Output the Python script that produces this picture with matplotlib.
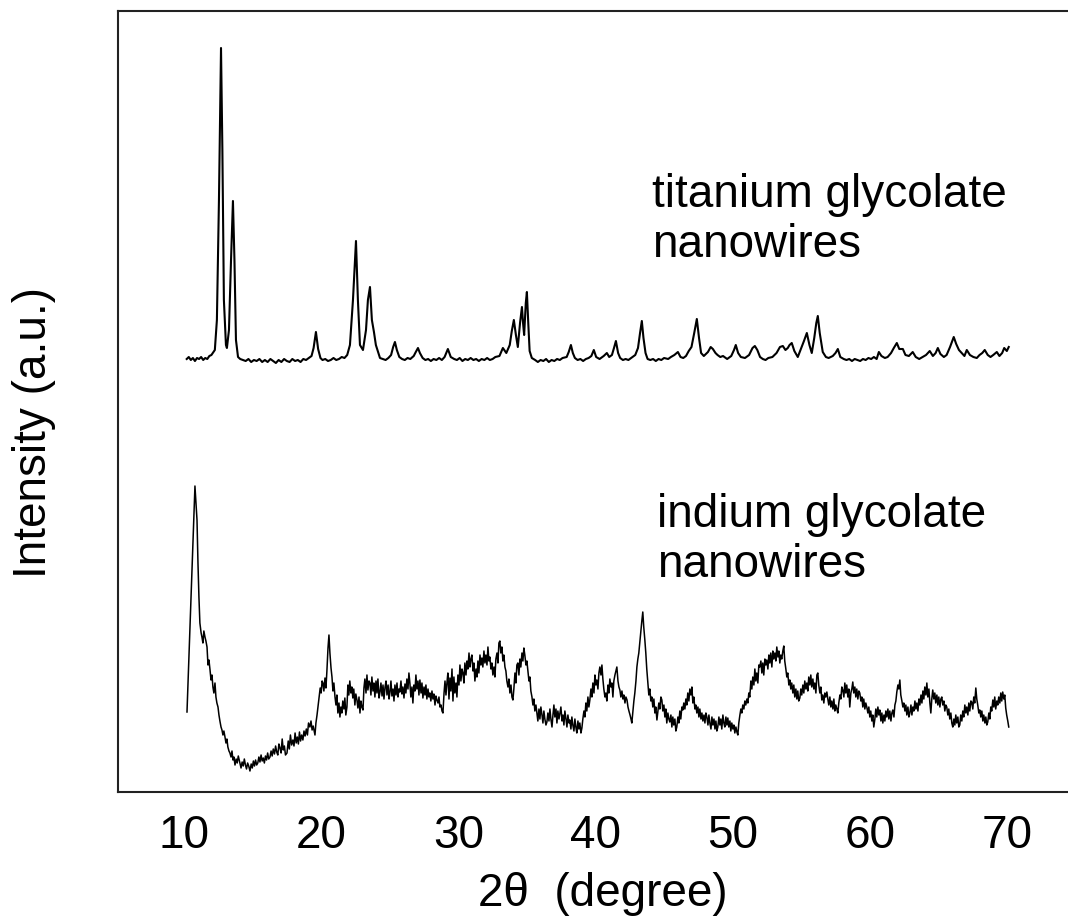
import matplotlib
matplotlib.use("Agg")
import matplotlib.pyplot as plt

# ---------------- data (2theta in degrees, intensity in a.u.) ----------------
TI_X = [10.20, 10.35, 10.50, 10.65, 10.80, 10.95, 11.10, 11.25, 11.40, 11.55, 11.70, 11.85, 12.00,
        12.10, 12.25, 12.40, 12.55, 12.70, 12.80, 12.91, 13.06, 13.13, 13.28, 13.43, 13.57, 13.68,
        13.79, 13.94, 14.10, 14.30, 14.50, 14.70, 14.90, 15.10, 15.30, 15.50, 15.70, 15.90, 16.10,
        16.30, 16.50, 16.70, 16.90, 17.10, 17.30, 17.50, 17.70, 17.90, 18.10, 18.30, 18.50, 18.70,
        18.90, 19.10, 19.30, 19.45, 19.62, 19.78, 19.95, 20.10, 20.30, 20.50, 20.70, 20.90, 21.10,
        21.30, 21.50, 21.70, 21.90, 22.10, 22.32, 22.54, 22.68, 22.83, 23.05, 23.27, 23.41, 23.56,
        23.70, 23.85, 23.99, 24.29, 24.50, 24.70, 24.90, 25.10, 25.25, 25.38, 25.52, 25.70, 25.90,
        26.10, 26.30, 26.50, 26.75, 26.90, 27.06, 27.20, 27.40, 27.60, 27.80, 28.00, 28.20, 28.40,
        28.60, 28.80, 29.00, 29.24, 29.45, 29.70, 29.90, 30.10, 30.30, 30.50, 30.70, 30.90, 31.10,
        31.30, 31.50, 31.70, 31.90, 32.10, 32.30, 32.50, 32.70, 33.00, 33.25, 33.50, 33.75, 33.90,
        34.05, 34.20, 34.34, 34.50, 34.64, 34.72, 34.80, 34.92, 35.00, 35.10, 35.20, 35.36, 35.60,
        35.80, 36.00, 36.20, 36.40, 36.60, 36.80, 37.00, 37.20, 37.40, 37.60, 37.90, 38.05, 38.21,
        38.35, 38.50, 38.70, 38.90, 39.10, 39.30, 39.50, 39.70, 39.88, 40.05, 40.30, 40.60, 40.83,
        41.00, 41.20, 41.35, 41.49, 41.65, 41.80, 42.00, 42.20, 42.40, 42.60, 42.90, 43.10, 43.25,
        43.38, 43.50, 43.65, 43.80, 44.00, 44.20, 44.40, 44.60, 44.80, 45.00, 45.30, 45.50, 45.75,
        46.01, 46.20, 46.40, 46.60, 46.80, 47.00, 47.20, 47.39, 47.55, 47.70, 47.90, 48.20, 48.40,
        48.56, 48.75, 48.90, 49.10, 49.30, 49.60, 49.90, 50.10, 50.23, 50.40, 50.60, 50.90, 51.20,
        51.45, 51.62, 51.80, 52.00, 52.20, 52.40, 52.60, 52.90, 53.20, 53.45, 53.66, 53.85, 54.02,
        54.15, 54.31, 54.50, 54.75, 54.95, 55.20, 55.41, 55.60, 55.77, 55.95, 56.10, 56.21, 56.35,
        56.57, 56.80, 57.00, 57.30, 57.50, 57.67, 57.85, 58.10, 58.30, 58.50, 58.70, 58.90, 59.10,
        59.30, 59.50, 59.70, 59.90, 60.10, 60.30, 60.50, 60.66, 60.85, 61.10, 61.30, 61.55, 61.75,
        61.97, 62.15, 62.41, 62.60, 62.85, 63.13, 63.35, 63.60, 63.85, 64.10, 64.37, 64.60, 64.80,
        64.96, 65.15, 65.40, 65.60, 65.85, 66.12, 66.30, 66.50, 66.70, 66.90, 67.07, 67.30, 67.55,
        67.80, 68.00, 68.20, 68.38, 68.60, 68.80, 69.00, 69.26, 69.45, 69.65, 69.80, 69.99, 70.13]
TI_Y = [434, 436, 433, 435, 432, 435, 434, 436, 433, 435, 434, 437, 438,
        440, 443, 473, 593, 745, 643, 493, 448, 445, 463, 533, 592, 533,
        453, 436, 434, 433, 432, 434, 431, 433, 432, 434, 431, 433, 431,
        434, 432, 430, 433, 431, 434, 432, 431, 434, 432, 433, 431, 434,
        433, 435, 437, 445, 461, 444, 435, 433, 434, 432, 433, 435, 433,
        434, 436, 435, 438, 448, 493, 552, 493, 448, 443, 463, 493, 506,
        473, 461, 448, 435, 434, 433, 435, 438, 446, 451, 443, 436, 434,
        433, 435, 434, 437, 441, 445, 440, 435, 433, 434, 432, 434, 433,
        435, 433, 436, 444, 436, 434, 433, 435, 432, 434, 433, 435, 433,
        434, 432, 434, 433, 435, 433, 434, 436, 437, 445, 440, 448, 462,
        473, 458, 446, 470, 486, 470, 458, 490, 501, 470, 442, 435, 433,
        431, 433, 432, 434, 431, 433, 432, 434, 433, 435, 436, 441, 448,
        440, 435, 433, 434, 432, 434, 435, 437, 443, 436, 434, 437, 440,
        436, 438, 445, 452, 440, 435, 433, 434, 433, 435, 438, 445, 460,
        472, 455, 440, 434, 433, 434, 432, 434, 433, 435, 434, 436, 438,
        441, 436, 435, 437, 442, 446, 460, 474, 455, 440, 437, 441, 446,
        444, 440, 438, 436, 437, 434, 437, 443, 448, 440, 436, 435, 438,
        445, 447, 443, 436, 434, 433, 435, 436, 440, 446, 447, 443, 445,
        448, 450, 442, 436, 443, 452, 460, 448, 440, 455, 470, 477, 460,
        441, 436, 435, 437, 440, 444, 436, 434, 433, 434, 432, 434, 433,
        432, 434, 433, 435, 434, 436, 434, 441, 437, 435, 436, 440, 445,
        450, 444, 444, 438, 437, 441, 436, 434, 436, 438, 442, 437, 440,
        445, 439, 436, 438, 446, 456, 449, 443, 440, 437, 443, 438, 436,
        435, 438, 440, 443, 438, 436, 438, 441, 437, 440, 445, 442, 446]

IN_X = [10.22, 10.80, 10.95, 11.02, 11.09, 11.16, 11.25, 11.31, 11.38, 11.45, 11.53, 11.60, 11.68,
        11.75, 11.82, 11.90, 11.97, 12.04, 12.11, 12.18, 12.26, 12.33, 12.40, 12.48, 12.55, 12.62,
        12.70, 12.77, 12.84, 12.91, 12.99, 13.06, 13.13, 13.20, 13.28, 13.35, 13.43, 13.50, 13.57,
        13.64, 13.72, 13.80, 13.88, 13.96, 14.08, 14.16, 14.24, 14.32, 14.40, 14.48, 14.56, 14.64,
        14.72, 14.81, 14.90, 14.98, 15.06, 15.14, 15.22, 15.30, 15.38, 15.46, 15.54, 15.62, 15.70,
        15.78, 15.86, 15.94, 16.02, 16.10, 16.18, 16.27, 16.35, 16.43, 16.51, 16.60, 16.68, 16.76,
        16.84, 16.92, 17.00, 17.08, 17.16, 17.24, 17.32, 17.40, 17.51, 17.60, 17.68, 17.76, 17.85,
        17.94, 18.02, 18.10, 18.18, 18.26, 18.34, 18.42, 18.50, 18.58, 18.67, 18.75, 18.83, 18.92,
        19.00, 19.08, 19.18, 19.26, 19.34, 19.42, 19.55, 19.62, 19.70, 19.77, 19.85, 19.93, 20.00,
        20.07, 20.13, 20.20, 20.28, 20.35, 20.42, 20.50, 20.57, 20.64, 20.72, 20.79, 20.86, 20.93,
        21.01, 21.08, 21.15, 21.22, 21.30, 21.37, 21.44, 21.51, 21.58, 21.66, 21.73, 21.80, 21.88,
        21.95, 22.02, 22.09, 22.17, 22.24, 22.31, 22.38, 22.46, 22.53, 22.61, 22.68, 22.76, 22.83,
        22.90, 22.97, 23.05, 23.12, 23.19, 23.27, 23.34, 23.41, 23.49, 23.56, 23.63, 23.70, 23.78,
        23.85, 23.92, 24.00, 24.07, 24.14, 24.22, 24.29, 24.36, 24.44, 24.51, 24.58, 24.66, 24.73,
        24.80, 24.88, 24.95, 25.01, 25.09, 25.16, 25.24, 25.31, 25.38, 25.46, 25.53, 25.60, 25.67,
        25.74, 25.82, 25.89, 25.96, 26.04, 26.11, 26.18, 26.25, 26.33, 26.40, 26.47, 26.54, 26.62,
        26.69, 26.76, 26.84, 26.91, 26.98, 27.06, 27.13, 27.20, 27.28, 27.35, 27.42, 27.50, 27.57,
        27.64, 27.71, 27.79, 27.86, 27.93, 28.00, 28.08, 28.15, 28.22, 28.30, 28.37, 28.44, 28.52,
        28.59, 28.66, 28.74, 28.81, 28.88, 28.96, 29.03, 29.10, 29.17, 29.24, 29.32, 29.39, 29.46,
        29.54, 29.61, 29.68, 29.75, 29.83, 29.90, 29.97, 30.05, 30.12, 30.19, 30.27, 30.34, 30.41,
        30.48, 30.56, 30.63, 30.70, 30.78, 30.85, 30.92, 30.99, 31.07, 31.14, 31.21, 31.29, 31.36,
        31.43, 31.50, 31.58, 31.65, 31.72, 31.79, 31.87, 31.94, 32.01, 32.09, 32.16, 32.23, 32.30,
        32.38, 32.45, 32.52, 32.60, 32.67, 32.74, 32.82, 32.89, 32.96, 33.03, 33.10, 33.18, 33.25,
        33.32, 33.40, 33.47, 33.54, 33.62, 33.69, 33.76, 33.84, 33.91, 33.98, 34.05, 34.13, 34.20,
        34.27, 34.34, 34.42, 34.49, 34.56, 34.64, 34.71, 34.78, 34.85, 34.93, 35.00, 35.07, 35.15,
        35.22, 35.29, 35.37, 35.44, 35.51, 35.58, 35.66, 35.73, 35.80, 35.88, 35.95, 36.02, 36.10,
        36.17, 36.24, 36.31, 36.39, 36.46, 36.53, 36.61, 36.68, 36.75, 36.83, 36.90, 36.97, 37.04,
        37.12, 37.19, 37.26, 37.34, 37.41, 37.48, 37.56, 37.63, 37.70, 37.77, 37.85, 37.92, 37.99,
        38.07, 38.13, 38.21, 38.28, 38.35, 38.43, 38.50, 38.57, 38.64, 38.72, 38.79, 38.86, 38.94,
        39.01, 39.08, 39.16, 39.23, 39.30, 39.37, 39.45, 39.52, 39.59, 39.67, 39.74, 39.81, 39.89,
        39.96, 40.03, 40.10, 40.18, 40.25, 40.32, 40.40, 40.47, 40.54, 40.61, 40.69, 40.76, 40.83,
        40.91, 40.98, 41.05, 41.13, 41.20, 41.27, 41.34, 41.42, 41.49, 41.56, 41.64, 41.71, 41.78,
        41.85, 41.93, 42.00, 42.07, 42.15, 42.22, 42.30, 42.37, 42.44, 42.52, 42.59, 42.65, 42.73,
        42.80, 42.87, 42.95, 43.02, 43.09, 43.16, 43.24, 43.31, 43.38, 43.45, 43.52, 43.60, 43.67,
        43.74, 43.82, 43.89, 43.96, 44.04, 44.11, 44.18, 44.26, 44.33, 44.40, 44.48, 44.55, 44.62,
        44.69, 44.77, 44.84, 44.91, 44.99, 45.06, 45.13, 45.20, 45.28, 45.35, 45.42, 45.50, 45.57,
        45.64, 45.71, 45.79, 45.86, 45.93, 46.01, 46.08, 46.15, 46.22, 46.30, 46.37, 46.44, 46.52,
        46.59, 46.66, 46.73, 46.81, 46.88, 46.96, 47.03, 47.10, 47.17, 47.25, 47.32, 47.39, 47.47,
        47.54, 47.61, 47.69, 47.76, 47.83, 47.91, 47.98, 48.05, 48.12, 48.20, 48.27, 48.34, 48.42,
        48.49, 48.56, 48.64, 48.71, 48.78, 48.85, 48.92, 49.00, 49.07, 49.14, 49.21, 49.29, 49.36,
        49.43, 49.51, 49.58, 49.65, 49.72, 49.80, 49.87, 49.94, 50.02, 50.09, 50.16, 50.24, 50.31,
        50.38, 50.45, 50.53, 50.60, 50.67, 50.74, 50.82, 50.89, 50.96, 51.04, 51.11, 51.18, 51.25,
        51.33, 51.40, 51.47, 51.55, 51.62, 51.69, 51.76, 51.84, 51.91, 51.98, 52.06, 52.13, 52.20,
        52.27, 52.35, 52.42, 52.49, 52.57, 52.64, 52.71, 52.78, 52.86, 52.93, 53.00, 53.08, 53.15,
        53.22, 53.30, 53.37, 53.44, 53.51, 53.58, 53.66, 53.73, 53.80, 53.88, 53.95, 54.02, 54.10,
        54.17, 54.24, 54.31, 54.39, 54.46, 54.53, 54.61, 54.68, 54.75, 54.82, 54.90, 54.97, 55.04,
        55.12, 55.19, 55.26, 55.34, 55.41, 55.48, 55.55, 55.63, 55.70, 55.77, 55.85, 55.92, 55.99,
        56.07, 56.14, 56.21, 56.28, 56.36, 56.43, 56.50, 56.57, 56.65, 56.72, 56.79, 56.87, 56.94,
        57.01, 57.09, 57.16, 57.23, 57.31, 57.38, 57.45, 57.52, 57.60, 57.67, 57.74, 57.82, 57.89,
        57.96, 58.03, 58.11, 58.18, 58.25, 58.32, 58.40, 58.47, 58.54, 58.62, 58.69, 58.76, 58.83,
        58.91, 58.98, 59.05, 59.13, 59.20, 59.27, 59.35, 59.42, 59.49, 59.56, 59.64, 59.71, 59.78,
        59.86, 59.93, 60.00, 60.07, 60.15, 60.22, 60.29, 60.37, 60.44, 60.51, 60.59, 60.66, 60.73,
        60.81, 60.88, 60.95, 61.03, 61.10, 61.17, 61.24, 61.32, 61.39, 61.46, 61.54, 61.61, 61.68,
        61.76, 61.83, 61.90, 61.97, 62.05, 62.12, 62.19, 62.26, 62.34, 62.41, 62.48, 62.56, 62.63,
        62.70, 62.78, 62.85, 62.92, 63.00, 63.07, 63.14, 63.21, 63.29, 63.36, 63.43, 63.51, 63.58,
        63.65, 63.73, 63.80, 63.87, 63.94, 64.01, 64.09, 64.16, 64.23, 64.31, 64.38, 64.45, 64.52,
        64.59, 64.67, 64.74, 64.81, 64.89, 64.96, 65.03, 65.11, 65.18, 65.25, 65.32, 65.40, 65.47,
        65.54, 65.61, 65.69, 65.76, 65.83, 65.91, 65.98, 66.05, 66.13, 66.20, 66.27, 66.34, 66.42,
        66.49, 66.56, 66.63, 66.71, 66.78, 66.85, 66.93, 67.00, 67.07, 67.15, 67.22, 67.29, 67.37,
        67.43, 67.51, 67.58, 67.65, 67.73, 67.80, 67.87, 67.95, 68.02, 68.09, 68.17, 68.24, 68.31,
        68.39, 68.46, 68.53, 68.60, 68.68, 68.75, 68.82, 68.89, 68.97, 69.04, 69.11, 69.18, 69.26,
        69.33, 69.40, 69.48, 69.55, 69.62, 69.69, 69.77, 69.84, 69.91, 69.98, 70.06, 70.13]
IN_Y = [81, 307, 273, 230, 196, 170, 160, 156, 150, 162, 156, 152, 146,
        128, 133, 123, 113, 118, 106, 100, 110, 96, 90, 86, 78, 72,
        66, 63, 58, 62, 56, 50, 54, 46, 42, 40, 36, 42, 33,
        36, 28, 34, 30, 37, 30, 25, 31, 27, 34, 28, 24, 30,
        27, 22, 29, 25, 32, 27, 33, 28, 30, 36, 31, 38, 32,
        35, 30, 37, 33, 40, 34, 36, 42, 37, 44, 39, 47, 41,
        38, 49, 45, 40, 54, 43, 47, 38, 40, 52, 44, 58, 48,
        53, 47, 60, 50, 56, 49, 61, 52, 58, 53, 62, 57, 64,
        58, 70, 66, 72, 63, 67, 58, 70, 78, 86, 96, 105, 100,
        112, 110, 102, 115, 105, 122, 145, 158, 140, 125, 116, 102, 110,
        96, 88, 98, 80, 90, 76, 86, 80, 92, 84, 95, 78, 86,
        108, 98, 112, 100, 106, 95, 104, 88, 99, 93, 85, 96, 80,
        92, 86, 83, 105, 114, 100, 118, 103, 112, 110, 98, 116, 102,
        110, 96, 112, 100, 114, 95, 101, 110, 97, 108, 94, 106, 112,
        98, 108, 94, 100, 112, 97, 104, 92, 108, 98, 110, 96, 104,
        101, 112, 99, 106, 95, 109, 100, 114, 104, 120, 110, 96, 106,
        90, 108, 102, 118, 104, 112, 98, 113, 100, 110, 95, 106, 98,
        108, 94, 104, 96, 100, 92, 102, 94, 99, 88, 97, 93, 90,
        96, 86, 88, 82, 80, 100, 112, 98, 110, 120, 94, 115, 102,
        124, 92, 116, 100, 110, 96, 118, 108, 128, 112, 124, 120, 110,
        130, 118, 132, 124, 140, 126, 134, 138, 122, 130, 112, 124, 116,
        132, 120, 138, 128, 135, 126, 142, 130, 138, 128, 146, 132, 136,
        124, 130, 118, 126, 116, 134, 140, 130, 150, 152, 140, 146, 132,
        138, 126, 122, 112, 106, 114, 100, 108, 96, 93, 104, 120, 110,
        128, 130, 118, 134, 126, 140, 132, 145, 138, 128, 132, 123, 112,
        116, 102, 96, 88, 94, 82, 88, 80, 72, 84, 74, 86, 78,
        70, 82, 74, 68, 71, 80, 72, 84, 74, 66, 78, 88, 76,
        84, 70, 82, 74, 80, 86, 72, 78, 68, 82, 74, 66, 78,
        70, 73, 64, 76, 68, 62, 74, 66, 60, 72, 64, 70, 60,
        65, 74, 82, 76, 90, 82, 96, 86, 93, 104, 96, 110, 100,
        118, 108, 113, 104, 120, 126, 118, 128, 114, 104, 96, 100, 92,
        108, 100, 114, 106, 110, 96, 112, 118, 122, 126, 112, 106, 103,
        96, 102, 94, 98, 90, 96, 93, 86, 82, 78, 74, 70, 82,
        92, 100, 112, 126, 134, 140, 152, 162, 172, 181, 166, 153, 140,
        124, 110, 98, 104, 92, 96, 86, 94, 80, 86, 73, 82, 90,
        84, 96, 93, 82, 88, 76, 84, 70, 80, 74, 71, 78, 66,
        76, 68, 74, 62, 66, 76, 70, 82, 74, 86, 83, 90, 84,
        94, 88, 100, 92, 104, 98, 106, 90, 96, 84, 88, 80, 86,
        76, 84, 74, 80, 72, 78, 70, 80, 76, 68, 78, 70, 64,
        76, 68, 74, 64, 72, 62, 66, 76, 68, 74, 64, 78, 70,
        66, 76, 68, 75, 66, 72, 62, 70, 64, 68, 60, 66, 61,
        58, 70, 78, 84, 80, 88, 84, 92, 88, 94, 90, 100, 96,
        112, 104, 116, 108, 124, 112, 120, 110, 128, 126, 132, 120, 130,
        118, 134, 128, 133, 124, 138, 130, 140, 126, 142, 134, 140, 132,
        146, 136, 142, 130, 138, 134, 142, 147, 132, 124, 116, 120, 108,
        113, 104, 110, 100, 108, 96, 104, 94, 102, 92, 95, 104, 98,
        108, 100, 112, 104, 110, 102, 116, 108, 118, 106, 114, 104, 110,
        100, 118, 120, 108, 100, 106, 93, 98, 90, 100, 96, 101, 94,
        88, 96, 86, 92, 84, 94, 82, 88, 84, 80, 90, 98, 94,
        106, 103, 96, 110, 100, 108, 96, 104, 86, 100, 104, 111, 100,
        106, 96, 104, 94, 102, 100, 92, 96, 86, 94, 84, 90, 86,
        80, 86, 76, 82, 72, 78, 66, 74, 84, 76, 86, 78, 83,
        72, 80, 70, 78, 72, 82, 76, 84, 74, 82, 72, 80, 83,
        76, 88, 92, 101, 108, 104, 113, 98, 92, 86, 90, 82, 88,
        78, 86, 76, 80, 88, 78, 86, 82, 92, 84, 90, 82, 94,
        88, 98, 90, 102, 94, 106, 98, 110, 96, 104, 90, 80, 94,
        103, 94, 100, 90, 98, 88, 96, 86, 94, 96, 88, 92, 82,
        88, 86, 78, 84, 74, 80, 70, 66, 74, 68, 78, 70, 76,
        66, 68, 78, 72, 82, 76, 88, 80, 86, 78, 90, 82, 92,
        91, 84, 96, 90, 105, 94, 88, 80, 83, 76, 82, 72, 78,
        70, 76, 68, 71, 80, 74, 86, 82, 93, 86, 96, 84, 92,
        88, 96, 90, 100, 92, 101, 94, 98, 85, 78, 72, 66]

X_TICKS = [10, 20, 30, 40, 50, 60, 70]
LABEL_TI = "titanium glycolate\nnanowires"
LABEL_IN = "indium glycolate\nnanowires"

# ---------------- figure ----------------
plt.rcParams['font.family'] = ['Liberation Sans', 'DejaVu Sans']

W, H = 1068, 919
fig = plt.figure(figsize=(W / 100, H / 100), dpi=100)
ax = fig.add_axes([118 / W, (H - 792) / H, (W - 118) / W, (792 - 11) / H])

ax.plot(TI_X, TI_Y, color='black', lw=1.5)
ax.plot(IN_X, IN_Y, color='black', lw=1.1)

ax.set_xlim(5.19, 74.45)
ax.set_ylim(1, 782)

ax.set_xticks(X_TICKS)
ax.set_xticklabels([str(t) for t in X_TICKS])
ax.set_yticks([])
ax.tick_params(axis='x', length=0, pad=16, labelsize=33)

for side in ['left', 'top', 'bottom']:
    ax.spines[side].set_linewidth(1.5)
    ax.spines[side].set_color('#222222')
ax.spines['right'].set_visible(False)

ax.set_xlabel("2θ  (degree)", fontsize=33)
ax.xaxis.set_label_coords((603 - 118) / 950, -0.102)
ax.set_ylabel("Intensity (a.u.)", fontsize=33)
ax.yaxis.label.set_va('center')
ax.yaxis.set_label_coords(-0.088, 0.46)

ax.text(44.11, 573, LABEL_TI, fontsize=33, ha='left', va='center', linespacing=1.18)
ax.text(44.47, 253, LABEL_IN, fontsize=33, ha='left', va='center', linespacing=1.18)

fig.savefig("out.png", dpi=100)
